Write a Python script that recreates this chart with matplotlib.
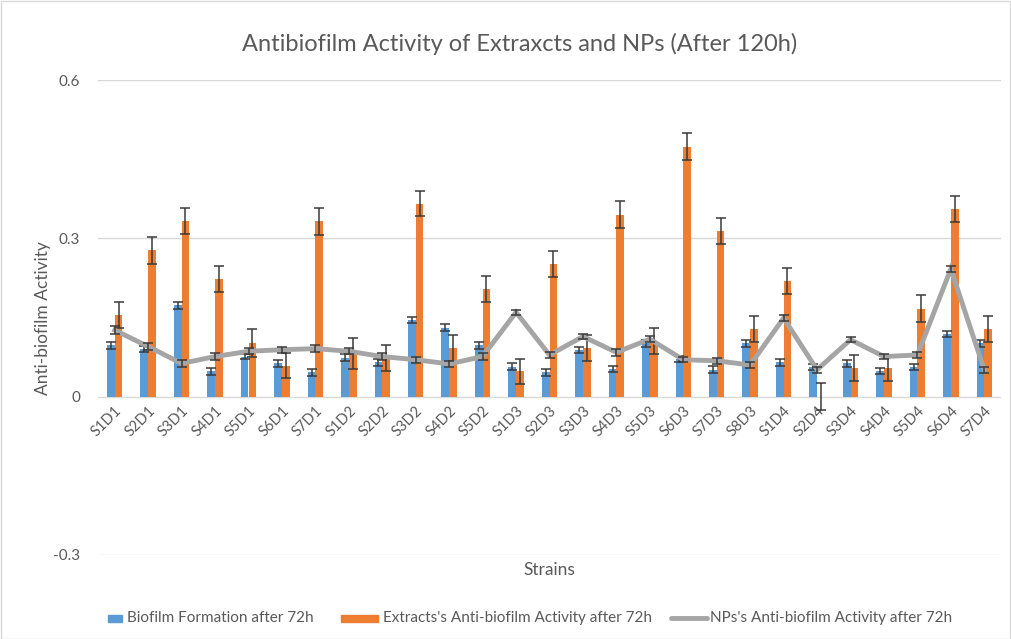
import matplotlib
matplotlib.use("Agg")
import matplotlib.pyplot as plt
import numpy as np
from matplotlib.patches import Rectangle
from matplotlib.lines import Line2D

plt.rcParams['font.family'] = ['Lato', 'DejaVu Sans']

strains = ["S1D1", "S2D1", "S3D1", "S4D1", "S5D1", "S6D1", "S7D1",
           "S1D2", "S2D2", "S3D2", "S4D2", "S5D2",
           "S1D3", "S2D3", "S3D3", "S4D3", "S5D3", "S6D3", "S7D3", "S8D3",
           "S1D4", "S2D4", "S3D4", "S4D4", "S5D4", "S6D4", "S7D4"]

biofilm = [0.097, 0.090, 0.173, 0.048, 0.076, 0.063, 0.046,
           0.074, 0.065, 0.145, 0.131, 0.097,
           0.057, 0.046, 0.089, 0.053, 0.101, 0.071, 0.051, 0.101,
           0.065, 0.056, 0.063, 0.049, 0.056, 0.119, 0.101]
biofilm_err = [0.006, 0.006, 0.007, 0.007, 0.005, 0.006, 0.006,
               0.006, 0.006, 0.006, 0.006, 0.007,
               0.006, 0.006, 0.006, 0.006, 0.007, 0.006, 0.007, 0.007,
               0.006, 0.006, 0.006, 0.006, 0.006, 0.006, 0.007]

extracts = [0.155, 0.277, 0.333, 0.223, 0.102, 0.059, 0.332,
            0.082, 0.073, 0.366, 0.092, 0.204,
            0.048, 0.251, 0.092, 0.345, 0.105, 0.474, 0.314, 0.128,
            0.219, 0.000, 0.054, 0.054, 0.167, 0.356, 0.128]
extracts_err = [0.025, 0.025, 0.025, 0.025, 0.026, 0.024, 0.025,
                0.029, 0.024, 0.024, 0.025, 0.025,
                0.024, 0.025, 0.025, 0.025, 0.025, 0.026, 0.025, 0.025,
                0.025, 0.025, 0.025, 0.025, 0.025, 0.025, 0.025]

nps = [0.126, 0.095, 0.063, 0.076, 0.086, 0.089, 0.091,
       0.086, 0.076, 0.070, 0.062, 0.076,
       0.160, 0.079, 0.114, 0.084, 0.109, 0.070, 0.068, 0.060,
       0.149, 0.051, 0.108, 0.076, 0.079, 0.242, 0.051]
nps_err = [0.008, 0.006, 0.006, 0.006, 0.006, 0.006, 0.006,
           0.006, 0.006, 0.006, 0.006, 0.006,
           0.005, 0.006, 0.005, 0.006, 0.006, 0.005, 0.006, 0.006,
           0.005, 0.006, 0.005, 0.005, 0.006, 0.005, 0.006]

yticks = [-0.3, 0, 0.3, 0.6]
ytick_labels = ["-0.3", "0", "0.3", "0.6"]

BLUE = "#5B9BD5"
ORANGE = "#ED7D31"
GRAY = "#A5A5A5"
TXT = "#595959"

fig = plt.figure(figsize=(10.11, 6.39), dpi=100)
W, H = 1011, 639
ax = fig.add_axes([98 / W, 1 - 555 / H, (1001 - 98) / W, (555 - 80) / H])
ax.spines["bottom"].set_position(("data", 0))

x = np.arange(len(strains))
bw = 0.23
ekw = dict(ecolor="#3A3A3A", elinewidth=1.1, capsize=3.5, capthick=1.1)
ax.bar(x - bw / 2, biofilm, bw, color=BLUE, yerr=biofilm_err, error_kw=ekw, zorder=2)
ax.bar(x + bw / 2, extracts, bw, color=ORANGE, yerr=extracts_err, error_kw=ekw, zorder=2)
ax.plot(x, nps, color=GRAY, lw=3.5, zorder=3, solid_joinstyle="miter")
ax.errorbar(x, nps, yerr=nps_err, fmt="none", zorder=4, **ekw)

ax.set_xlim(-0.5, len(strains) - 0.5)
ax.set_ylim(-0.3, 0.6)
ax.set_yticks(yticks)
ax.set_yticklabels(ytick_labels, fontsize=11, color=TXT)
ax.set_xticks(x)
ax.set_xticklabels(strains, rotation=45, ha="right", rotation_mode="anchor",
                   fontsize=10.5, color=TXT)
ax.tick_params(axis="both", length=0)
ax.tick_params(axis="y", pad=13)
ax.tick_params(axis="x", pad=5)
for y in yticks:
    ax.axhline(y, color="#D9D9D9", lw=1.0, zorder=1)
for s in ax.spines.values():
    s.set_visible(False)

fig.text(520 / W, 1 - 44 / H, "Antibiofilm Activity of Extraxcts and NPs (After 120h)",
         ha="center", va="center", fontsize=17, color=TXT)
fig.text(43 / W, 1 - 318 / H, "Anti-biofilm Activity", rotation=90,
         ha="center", va="center", fontsize=12.5, color=TXT)
fig.text(549 / W, 1 - 570 / H, "Strains", ha="center", va="center", fontsize=12.5, color=TXT)

# legend drawn manually at reference positions
ly = 1 - 618 / H
lh = 7 / H
fig.patches.append(Rectangle((108 / W, ly - lh / 2), 14 / W, lh, transform=fig.transFigure,
                             color=BLUE))
fig.text(127 / W, ly, "Biofilm Formation after 72h", ha="left", va="center",
         fontsize=11, color=TXT)
fig.patches.append(Rectangle((341 / W, ly - lh / 2), 37 / W, lh, transform=fig.transFigure,
                             color=ORANGE))
fig.text(383 / W, ly, "Extracts's Anti-biofilm Activity after 72h", ha="left", va="center",
         fontsize=11, color=TXT)
fig.lines.append(Line2D([671 / W, 707 / W], [ly, ly], transform=fig.transFigure,
                        color=GRAY, lw=3.5, solid_capstyle="round"))
fig.text(710 / W, ly, "NPs's Anti-biofilm Activity after 72h", ha="left", va="center",
         fontsize=11, color=TXT)

fig.patches.append(Rectangle((0.5 / W, 0.5 / H), 1 - 1.5 / W, 1 - 1.5 / H, transform=fig.transFigure,
                             fill=False, edgecolor="#D9D9D9", lw=1))

fig.savefig("out.png", dpi=100)
